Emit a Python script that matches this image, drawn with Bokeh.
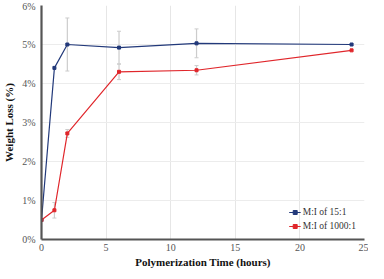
from bokeh.plotting import figure
from bokeh.models import ColumnDataSource, Whisker, TeeHead, PrintfTickFormatter, Range1d, FixedTicker, Legend
from bokeh.embed import file_html
from bokeh.resources import INLINE

time_h = [0, 1, 2, 6, 12, 24]
loss_15 = [0.5, 4.4, 5.0, 4.92, 5.03, 5.0]
err_15 = [0, 0, 0.68, 0.42, 0.37, 0]
loss_1000 = [0.5, 0.75, 2.72, 4.3, 4.34, 4.85]
err_1000 = [0, 0.2, 0.1, 0.2, 0.12, 0]
x_ticks = [0, 5, 10, 15, 20, 25]
y_ticks = [0, 1, 2, 3, 4, 5, 6]
label_15 = "M:I of 15:1"
label_1000 = "M:I of 1000:1"

BLUE = "#22397a"
RED = "#e0262b"
FONT = "'Liberation Serif', 'Times New Roman', serif"

p = figure(width=368, height=270, output_backend="svg", toolbar_location=None,
           x_range=Range1d(0, 25), y_range=Range1d(0, 6),
           min_border_left=0, min_border_right=4, min_border_top=5, min_border_bottom=0)
p.outline_line_color = None
p.background_fill_color = "white"

for xs, ys, es in [(time_h, loss_15, err_15), (time_h, loss_1000, err_1000)]:
    xx = [x for x, e in zip(xs, es) if e > 0]
    up = [y + e for y, e in zip(ys, es) if e > 0]
    lo = [y - e for y, e in zip(ys, es) if e > 0]
    src = ColumnDataSource(dict(x=xx, upper=up, lower=lo))
    w = Whisker(source=src, base="x", upper="upper", lower="lower",
                line_color="#cccccc", line_width=1.2,
                upper_head=TeeHead(size=4, line_color="#cccccc", line_width=1),
                lower_head=TeeHead(size=4, line_color="#cccccc", line_width=1))
    w.level = "underlay"
    p.add_layout(w)

r1 = p.line(time_h, loss_15, line_color=BLUE, line_width=1.2)
r1m = p.scatter(time_h, loss_15, marker="square", size=3, color=BLUE)
r2 = p.line(time_h, loss_1000, line_color=RED, line_width=1.2)
r2m = p.scatter(time_h, loss_1000, marker="square", size=3, color=RED)

legend = Legend(items=[(label_15, [r1, r1m]), (label_1000, [r2, r2m])],
                location="bottom_right", border_line_color=None, background_fill_alpha=0,
                label_text_font=FONT, label_text_font_size="9.5px", label_text_color="#333333",
                glyph_width=12, glyph_height=10, label_height=10, spacing=4,
                padding=0, margin=8, label_standoff=2)
p.add_layout(legend)

p.xaxis.ticker = FixedTicker(ticks=x_ticks)
p.yaxis.ticker = FixedTicker(ticks=y_ticks)
p.yaxis.formatter = PrintfTickFormatter(format="%d%%")

for ax in (p.xaxis[0], p.yaxis[0]):
    ax.axis_line_color = "#555555"
    ax.axis_line_width = 2.2
    ax.major_tick_line_color = None
    ax.minor_tick_line_color = None
    ax.major_tick_in = 0
    ax.major_tick_out = 0
    ax.minor_tick_in = 0
    ax.minor_tick_out = 0
    ax.major_label_text_font = FONT
    ax.major_label_text_font_size = "10px"
    ax.major_label_text_color = "#555555"
    ax.axis_label_text_font = FONT
    ax.axis_label_text_font_size = "11px"
    ax.axis_label_text_font_style = "bold"
    ax.axis_label_text_color = "#111111"

p.xaxis.axis_label = "Polymerization Time (hours)"
p.yaxis.axis_label = "Weight Loss (%)"
p.xaxis.major_label_standoff = 4
p.xaxis.axis_label_standoff = 2
p.yaxis.major_label_standoff = 6
p.yaxis.axis_label_standoff = 4

p.xgrid.grid_line_color = "#e6e6e6"
p.ygrid.grid_line_color = "#ececec"
p.xgrid.ticker = FixedTicker(ticks=x_ticks)
p.ygrid.ticker = FixedTicker(ticks=y_ticks)

open("out.html", "w").write(file_html(p, INLINE))
